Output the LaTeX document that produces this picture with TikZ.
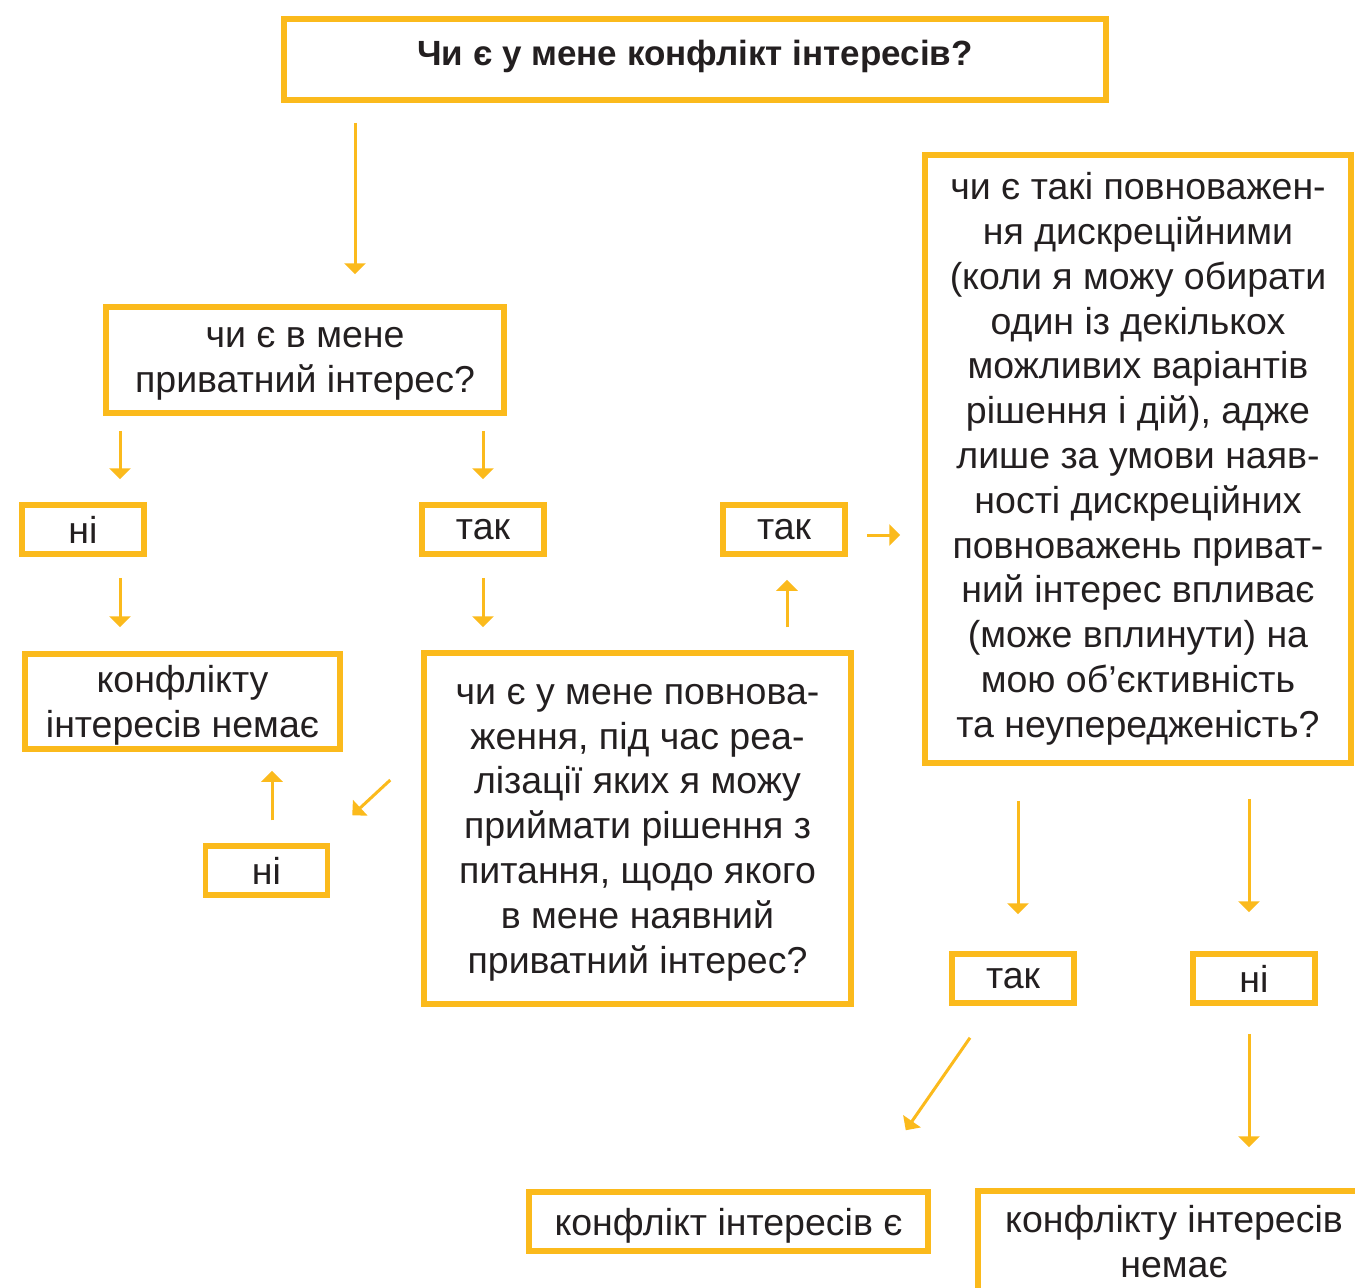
\documentclass[tikz,border=0pt]{standalone}
\usepackage{fontspec}
\setmainfont{Liberation Sans}
\usetikzlibrary{arrows.meta}

\definecolor{qyellow}{RGB}{251,186,28}
\definecolor{qink}{RGB}{35,31,32}

\begin{document}
\begin{tikzpicture}[x=1pt,y=-1pt,
    every node/.style={text=qink,font=\fontsize{37.5}{44.8}\selectfont},
    qbox/.style={draw=qyellow,line width=5.5pt,inner sep=0pt,align=center,text depth=0pt},
    small/.style={qbox,minimum width=122pt,minimum height=49pt},
    arr/.style={draw=qyellow,line width=3pt,-{Triangle[length=11pt,width=21pt]}}]

\useasboundingbox (0,0) rectangle (1355,1288);
\clip (0,0) rectangle (1355,1288);

% questions
\node[qbox,text depth=14pt,minimum width=822pt,minimum height=81pt] (top) at (695,59.5)
    {\fontsize{35}{44.8}\selectfont\bfseries Чи є у мене конфлікт інтересів?};
\node[qbox,minimum width=398pt,minimum height=106pt] (priv) at (305,360)
    {чи є в мене\\приватний інтерес?};
\node[qbox,minimum width=427pt,minimum height=351pt] (mid) at (637.5,828.5)
    {чи є у мене повнова-\\ження, під час реа-\\лізації яких я можу\\приймати рішення з\\питання, щодо якого\\в мене наявний\\приватний інтерес?};
\node[qbox,text depth=8pt,minimum width=426pt,minimum height=608pt] (disc) at (1138,459)
    {чи є такі повноважен-\\ня дискреційними\\(коли я можу обирати\\один із декількох\\можливих варіантів\\рішення і дій), адже\\лише за умови наяв-\\ності дискреційних\\повноважень приват-\\ний інтерес впливає\\(може вплинути) на\\мою об’єктивність\\та неупередженість?};

% answers
\node[small] (no1) at (83,529.5) {ні};
\node[small] (yes1) at (483,529.5) {так};
\node[small] (yes2) at (784,529.5) {так};
\node[small] (no2) at (266.5,870.5) {ні};
\node[small] (yes3) at (1013,978.5) {так};
\node[small] (no3) at (1254,978.5) {ні};

% results
\node[qbox,minimum width=315pt,minimum height=95pt] (none1) at (182.5,701.5)
    {конфлікту\\інтересів немає};
\node[qbox,minimum width=399pt,minimum height=59pt] (is) at (728.5,1221.5)
    {конфлікт інтересів є};
\node[qbox,minimum width=392pt,minimum height=100pt] (none2) at (1174,1241)
    {конфлікту інтересів\\немає};

% arrows
\draw[arr] ([shift={(-340,20)}]top.south) -- ([shift={(50,-30)}]priv.north);
\draw[arr] ([shift={(-185,15)}]priv.south) -- ([shift={(37,-23)}]no1.north);
\draw[arr] ([shift={(178,15)}]priv.south) -- ([shift={(0,-23)}]yes1.north);
\draw[arr] ([shift={(37,21)}]no1.south) -- ([shift={(-62.5,-24)}]none1.north);
\draw[arr] ([shift={(0,21)}]yes1.south) -- ([shift={(-154.5,-23)}]mid.north);
\draw[arr] ([shift={(149.5,-23)}]mid.north) -- ([shift={(3,23)}]yes2.south);
\draw[arr] ([shift={(-31,-48.5)}]mid.west) -- ([shift={(22,-28)}]no2.north east);
\draw[arr] ([shift={(5.5,-23)}]no2.north) -- ([shift={(89.5,19)}]none1.south);
\draw[arr] ([shift={(19,5.5)}]yes2.east) -- ([shift={(-22,76)}]disc.west);
\draw[arr] ([shift={(-120,35)}]disc.south) -- ([shift={(5,-37)}]yes3.north);
\draw[arr] ([shift={(111,33)}]disc.south) -- ([shift={(-5,-39)}]no3.north);
\draw[arr] ([shift={(-43,32)}]yes3.south) -- ([shift={(-25,-59)}]is.north east);
\draw[arr] ([shift={(-5,28)}]no3.south) -- ([shift={(75,-41)}]none2.north);
\end{tikzpicture}
\end{document}
